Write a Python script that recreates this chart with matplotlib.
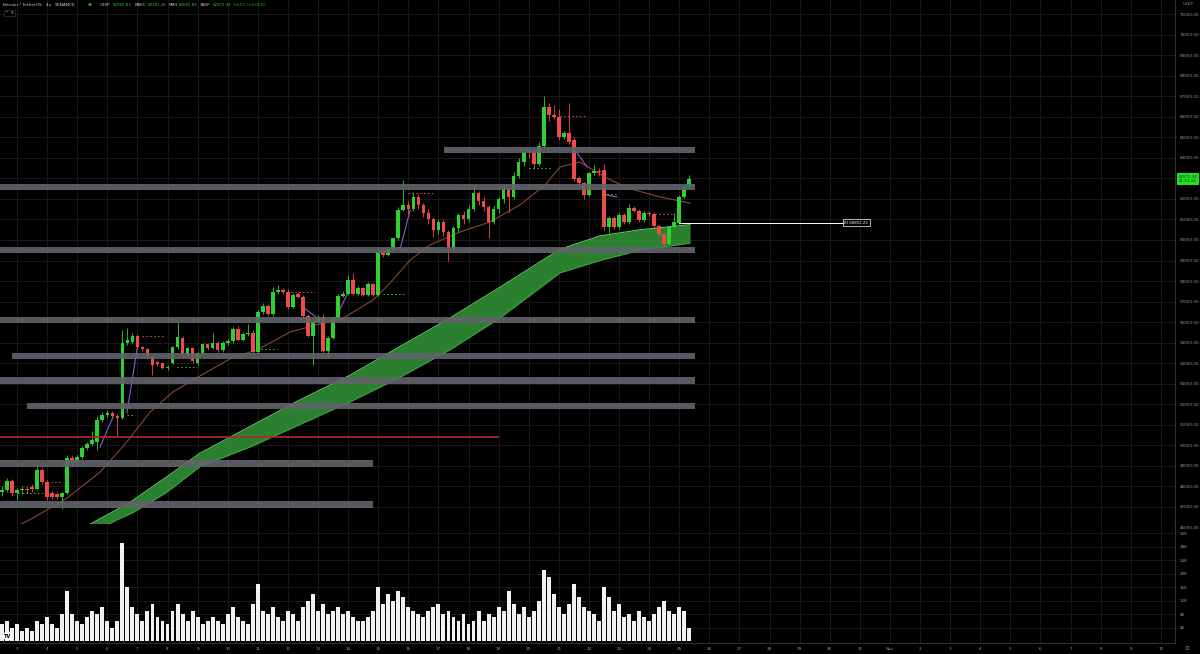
import numpy as np
import matplotlib.pyplot as plt

# 4h candles, first one opens Oct 2 12:00 ; x unit = day of October
start_day = 2.5

opens = [47700, 47800, 48250, 47650, 47800, 47850, 47950, 47850, 48780, 48200, 47650, 47600,
         47450, 47650, 49350, 49150, 49400, 49850, 50050, 50150, 51200, 51450, 51550, 51400,
         51320, 54980, 55030, 55320, 54780, 54680, 54300, 54070, 53985, 53770, 54000, 54780,
         55220, 54390, 54730, 54000, 54470, 54930, 54720, 54990, 54630, 54960, 55070, 55660,
         55120, 55410, 55480, 54550, 56500, 56800, 56390, 57480, 57550, 57480, 56750, 57370,
         57240, 56310, 55330, 56020, 56260, 54600, 55200, 56180, 57290, 57370, 58050, 57370,
         57640, 57320, 57840, 57320, 59430, 59270, 59540, 60080, 61460, 61710, 61500, 62100,
         61700, 61300, 61000, 60500, 60870, 60400, 59600, 60600, 61200, 61000, 61525, 62300,
         61900, 61600, 60900, 61500, 62005, 62500, 62100, 63100, 63800, 64300, 64280, 63700,
         64600, 66500, 66100, 66000, 65000, 65200, 64880, 63020, 62800, 62200, 63250, 63380,
         63400, 60650, 61060, 60650, 61220, 60890, 61550, 61430, 60980, 61300, 61270, 60680,
         60290, 59800, 60650, 60852, 62110, 62600]
closes = [47800, 48250, 47650, 47800, 47850, 47800, 47850, 48780, 48200, 47460, 47450, 47450,
          47650, 49350, 49150, 49400, 49850, 50050, 50240, 51220, 51450, 51550, 51400, 51300,
          54980, 55120, 55320, 54780, 54680, 54300, 53900, 53950, 53770, 53800, 54780, 55270,
          54390, 54730, 54100, 54470, 54930, 54720, 54990, 54630, 54960, 55070, 55660, 55120,
          55410, 55480, 54550, 56500, 56800, 56390, 57480, 57550, 57450, 56750, 57320, 57240,
          56310, 55330, 56020, 56260, 54600, 55200, 56180, 57290, 57370, 58050, 57370, 57640,
          57320, 57840, 57320, 59430, 59270, 59540, 60080, 61460, 61710, 61500, 62100, 61700,
          61300, 61000, 60500, 60870, 60400, 59600, 60600, 61200, 61000, 61525, 62300, 61900,
          61600, 60900, 61500, 62005, 62500, 62100, 63100, 63800, 64300, 64280, 63700, 64600,
          66500, 66100, 66000, 65000, 65200, 64800, 62980, 62800, 62200, 63250, 63380, 63300,
          60650, 61060, 60650, 61220, 60890, 61550, 61430, 60980, 61300, 61250, 60680, 60290,
          59800, 60650, 60860, 62110, 62600, 62972]
highs = [48000, 48400, 48350, 47900, 48000, 48000, 48100, 49170, 48900, 48300, 47750, 47700,
         47700, 49500, 49500, 49500, 49950, 50150, 50700, 51400, 51600, 51700, 51650, 51500,
         55610, 55700, 55450, 55400, 54850, 54750, 54350, 54100, 54050, 53900, 54850, 56000,
         55300, 54800, 54800, 54550, 55000, 55000, 55480, 55050, 55050, 55150, 55750, 55800,
         55500, 55900, 55600, 56600, 56950, 56900, 57700, 57800, 57650, 57600, 57400, 57450,
         57300, 56400, 56100, 56350, 56400, 55300, 56250, 57350, 57500, 58300, 58400, 57750,
         57700, 57950, 57900, 59500, 59600, 59650, 60150, 61600, 62930, 61900, 62350, 62250,
         61800, 61500, 61100, 61000, 61000, 60500, 60700, 61300, 61400, 61720, 62675, 62400,
         62100, 61700, 61700, 62100, 62700, 62600, 63300, 64000, 64486, 64500, 64400, 64800,
         67000, 66700, 66600, 66400, 65300, 66680, 65000, 63100, 62850, 63300, 63660, 63500,
         63700, 61150, 61150, 61300, 61300, 61750, 61650, 61500, 61400, 61400, 61350, 60750,
         60350, 60700, 61300, 62200, 62700, 63150]
lows = [47500, 47700, 47500, 47300, 47600, 47650, 47700, 47800, 48100, 47300, 47350, 47350,
        46900, 47600, 49000, 49050, 49300, 49750, 49950, 49760, 51100, 51350, 51300, 50400,
        51250, 54900, 54950, 54700, 54600, 54200, 53410, 53850, 53700, 53650, 53950, 54700,
        54300, 54300, 54000, 53900, 54400, 54650, 54700, 54550, 54550, 54900, 55000, 55050,
        55050, 55300, 54450, 54450, 56400, 56300, 56300, 57350, 57350, 56650, 56700, 57150,
        56250, 55250, 53900, 55950, 54500, 54230, 55150, 56100, 57200, 57300, 57300, 57300,
        57250, 57250, 57250, 57250, 59150, 59200, 59450, 60000, 61400, 61200, 61400, 61500,
        61100, 60800, 60150, 60300, 60200, 58960, 59400, 60400, 60800, 60900, 61400, 61700,
        61400, 60100, 60800, 61300, 61800, 61322, 62000, 63000, 63600, 64000, 63481, 63600,
        64500, 65800, 65900, 64900, 64950, 64700, 62900, 62600, 62000, 62150, 63150, 63100,
        60500, 60340, 60550, 60550, 60800, 60800, 61350, 60900, 60900, 61150, 60600, 60200,
        59700, 59750, 60600, 60800, 62050, 62550]
# volume in thousands BTC
volumes = [5, 6, 4, 5, 3, 4, 3, 6, 5, 7, 5, 4,
           8, 15, 8, 6, 5, 7, 9, 8, 10, 6, 4, 6,
           29, 16, 10, 8, 6, 9, 11, 7, 6, 5, 9, 11,
           8, 6, 9, 7, 5, 6, 7, 6, 5, 8, 10, 7,
           6, 5, 11, 17, 9, 8, 10, 7, 6, 9, 8, 6,
           10, 12, 14, 9, 11, 8, 9, 10, 8, 9, 7, 6,
           6, 7, 9, 16, 11, 14, 12, 15, 13, 10, 9, 8,
           7, 9, 10, 11, 8, 9, 7, 6, 8, 5, 6, 9,
           6, 8, 7, 10, 9, 15, 11, 8, 10, 7, 9, 12,
           21, 19, 14, 10, 8, 11, 17, 13, 10, 9, 8, 6,
           16, 13, 9, 11, 7, 8, 6, 9, 7, 6, 8, 10,
           12, 9, 8, 10, 9, 4]

# slow moving average (brown line)
ema_days = [2.43, 3.53, 4.66, 5.76, 6.65, 7.42, 8.18, 9.08, 10.18, 10.97, 12.07, 13.17,
            13.73, 14.83, 15.39, 16.06, 16.72, 17.72, 18.71, 19.71, 20.54, 21.04, 21.70,
            22.54, 23.27, 24.36, 25.36]
ema_vals = [45610, 46440, 47410, 48680, 50150, 51610, 52590, 53370, 54290, 54630, 55510, 55950,
            56100, 57070, 57900, 59020, 59760, 60390, 60880, 61710, 62680, 63560, 63800,
            63070, 62540, 62100, 61800]

# cloud between two long averages
cloud_days = [4.30, 4.53, 5.19, 6.32, 6.85, 7.98, 9.08, 10.74, 12.40, 14.06, 15.72, 17.39,
              19.05, 21.04, 22.37, 23.70, 25.36]
cloud_top = [45300, 45600, 45950, 46850, 47300, 48450, 49600, 50900, 52200, 53400, 54800,
             56200, 57700, 59550, 60200, 60500, 60750]
cloud_bot = [45000, 45300, 45500, 46350, 46700, 47700, 48950, 49900, 51000, 52100, 53300,
             54650, 56200, 58400, 59000, 59500, 59850]

# drawn levels : (from day, to day, price)
zone_start = [17.19, 2.43, 2.43, 2.43, 2.83, 2.43, 3.33, 2.43, 2.43]
zone_end = [25.52, 25.52, 25.52, 25.52, 25.52, 25.52, 25.52, 14.83, 14.83]
zone_price = [64400, 62600, 59500, 56100, 54350, 53150, 51900, 49100, 47100]
red_level = 50400
red_level_span = (2.43, 18.98)

# pivot dashes (from, to, price, kind)
pivots = [(4.0, 4.5, 48200, 'hi'), (3.03, 3.86, 47660, 'lo'), (7.15, 7.85, 55320, 'hi'),
          (6.65, 6.85, 51460, 'lo'), (8.3, 8.98, 53800, 'lo'), (11.97, 12.9, 57460, 'hi'),
          (10.97, 11.64, 54680, 'lo'), (15.16, 15.89, 57370, 'lo'), (16.0, 16.9, 62300, 'hi'),
          (20.0, 20.7, 63500, 'lo'), (21.04, 21.94, 66050, 'hi'), (22.47, 22.93, 62240, 'lo'),
          (24.2, 24.86, 61270, 'hi')]

# fast average, only visible pieces
fast_pieces = [[(4.83, 48930), (4.99, 49270)], [(5.76, 49900), (6.19, 51370)],
               [(6.65, 51560), (7.02, 54980)], [(12.50, 56730), (12.97, 56200)],
               [(13.50, 55950), (13.96, 57320)], [(15.72, 59510), (16.06, 61460)],
               [(21.47, 64540), (21.94, 63560)], [(22.47, 62240), (22.93, 62100)]]

daily_open = 60852.22
daily_open_span = (25.0, 30.44)
last_price = 62972.34

price_ticks = list(range(46000, 72000, 1000))
day_ticks = list(range(3, 42))
day_labels = [str(d) if d <= 31 else ('Nov' if d == 32 else str(d - 31)) for d in day_ticks]

GREEN = '#2fd12f'
RED = '#ee4b4b'
GRID = '#1d1d1d'
TXT = '#9a9a9a'
fsize = 3.0


def Main():
    fig = plt.figure(figsize=(12, 6.54), dpi=100, facecolor='black')
    ax = fig.add_axes([0, 1 - 530 / 654, 1175 / 1200, 530 / 654])
    axv = fig.add_axes([0, 11 / 654, 1175 / 1200, 119 / 654], sharex=ax)

    for a in (ax, axv):
        a.set_facecolor('black')
        for s in a.spines.values():
            s.set_color('#3a3a3a')
            s.set_linewidth(0.6)
        a.spines['left'].set_visible(False)
        a.spines['top'].set_visible(False)
        a.yaxis.tick_right()
        a.tick_params(length=0, colors=TXT, labelsize=fsize, pad=3.5)
        a.grid(color=GRID, lw=0.6)
        a.set_axisbelow(True)

    ax.set_xlim(2.435, 41.47)
    ax.set_ylim(45854, 71707)
    ax.set_yticks(price_ticks)
    # the 63000 label sits under the last price tag
    ax.set_yticklabels(['' if abs(v - last_price) < 400 else '%.2f' % v for v in price_ticks])
    ax.set_xticks(day_ticks)
    ax.tick_params(axis='x', labelbottom=False)

    o = np.array(opens, float)
    c = np.array(closes, float)
    x = start_day + np.arange(len(o)) / 6.0
    cols = [GREEN if cc >= oo else RED for oo, cc in zip(o, c)]

    # cloud
    ax.fill_between(cloud_days, cloud_bot, cloud_top, color='#2f8f35', alpha=0.9, lw=0, zorder=1)
    ax.plot(cloud_days, cloud_top, color='#64c864', lw=0.8, zorder=1)
    ax.plot(cloud_days, cloud_bot, color='#3fa83f', lw=0.6, zorder=1)

    # averages
    ax.plot(ema_days, ema_vals, color='#8a4536', lw=0.8, zorder=2)
    for piece in fast_pieces:
        px, py = zip(*piece)
        ax.plot(px, py, color='#8e5bd1', lw=0.8, zorder=2)

    # candles
    ax.vlines(x, lows, highs, colors=cols, lw=0.6, zorder=3)
    body = np.maximum(np.abs(c - o), 40)
    ax.bar(x, body, bottom=np.minimum(o, c), width=0.12, color=cols, lw=0, zorder=3)

    # pivots
    for x0, x1, p, kind in pivots:
        ax.plot([x0, x1], [p, p], color=RED if kind == 'hi' else GREEN, lw=0.7,
                ls=(0, (1.5, 2.5)), zorder=3)

    # levels
    for x0, x1, p in zip(zone_start, zone_end, zone_price):
        ax.fill_between([x0, x1], p - 150, p + 150, color='#62646b', alpha=0.9, lw=0, zorder=4)
    ax.plot(red_level_span, [red_level, red_level], color='#a52a2a', lw=1.3, zorder=4)

    ax.plot(daily_open_span, [daily_open, daily_open], color='white', lw=0.7, zorder=5)
    ax.text(daily_open_span[1] + 0.05, daily_open, 'Ю 60852.22', color='white', fontsize=2.8,
            va='center', ha='left', zorder=6,
            bbox=dict(boxstyle='square,pad=0.4', fc='black', ec='white', lw=0.5))

    ax.text(1.003, last_price, '%.2f\n01:53:24' % last_price, transform=ax.get_yaxis_transform(),
            fontsize=2.9, color='#0b3a0b', va='center', ha='left', linespacing=1.1,
            bbox=dict(boxstyle='square,pad=0.45', fc='#22e022', ec='none'), zorder=10,
            clip_on=False)

    # volume
    axv.bar(x, volumes, width=0.13, color='#f2f2f2', lw=0)
    axv.set_ylim(-0.6, 34.8)
    axv.set_yticks(range(4, 33, 4))
    axv.set_yticklabels(['%dK' % v for v in range(4, 33, 4)])
    axv.set_xticks(day_ticks)
    axv.set_xticklabels(day_labels)
    axv.tick_params(axis='x', pad=3)

    # header
    hy = 1 - 5 / 654
    fig.text(3 / 1200, hy, 'Bitcoin / TetherUS · 4ч · BINANCE', color='#c9c9c9',
             fontsize=3.2, va='center')
    fig.text(88 / 1200, hy, '●', color='#1fa51f', fontsize=3.2, va='center')
    parts = [('ОТКР', '62965.83'), ('МАКС', '63181.36'), ('МИН', '62665.82'), ('ЗАКР', '62972.34')]
    xpos = 100
    for lab, val in parts:
        fig.text(xpos / 1200, hy, lab, color='#c9c9c9', fontsize=2.9, va='center')
        xpos += len(lab) * 3.3
        fig.text(xpos / 1200, hy, val, color='#2ec92e', fontsize=2.9, va='center')
        xpos += 21
    fig.text(xpos / 1200, hy, '+6.51 (+0.01%)', color='#2ec92e', fontsize=2.9, va='center')
    fig.text(5 / 1200, 1 - 13 / 654, '^  9', color='#c9c9c9', fontsize=3.0, va='center',
             bbox=dict(boxstyle='square,pad=0.3', fc='black', ec='#444444', lw=0.4))

    fig.text(1188 / 1200, 1 - 4 / 654, 'USDT', color=TXT, fontsize=3.0, ha='center', va='center')
    fig.text(8 / 1200, 1 - 636 / 654, 'TV', color='black', fontsize=3.6, weight='bold',
             ha='center', va='center', bbox=dict(boxstyle='circle,pad=0.25', fc='white', ec='none'))
    fig.text(1187 / 1200, 1 - 648 / 654, '⊙', color=TXT, fontsize=4, ha='center', va='center')

    fig.savefig('out.png', dpi=100, facecolor='black')


Main()
